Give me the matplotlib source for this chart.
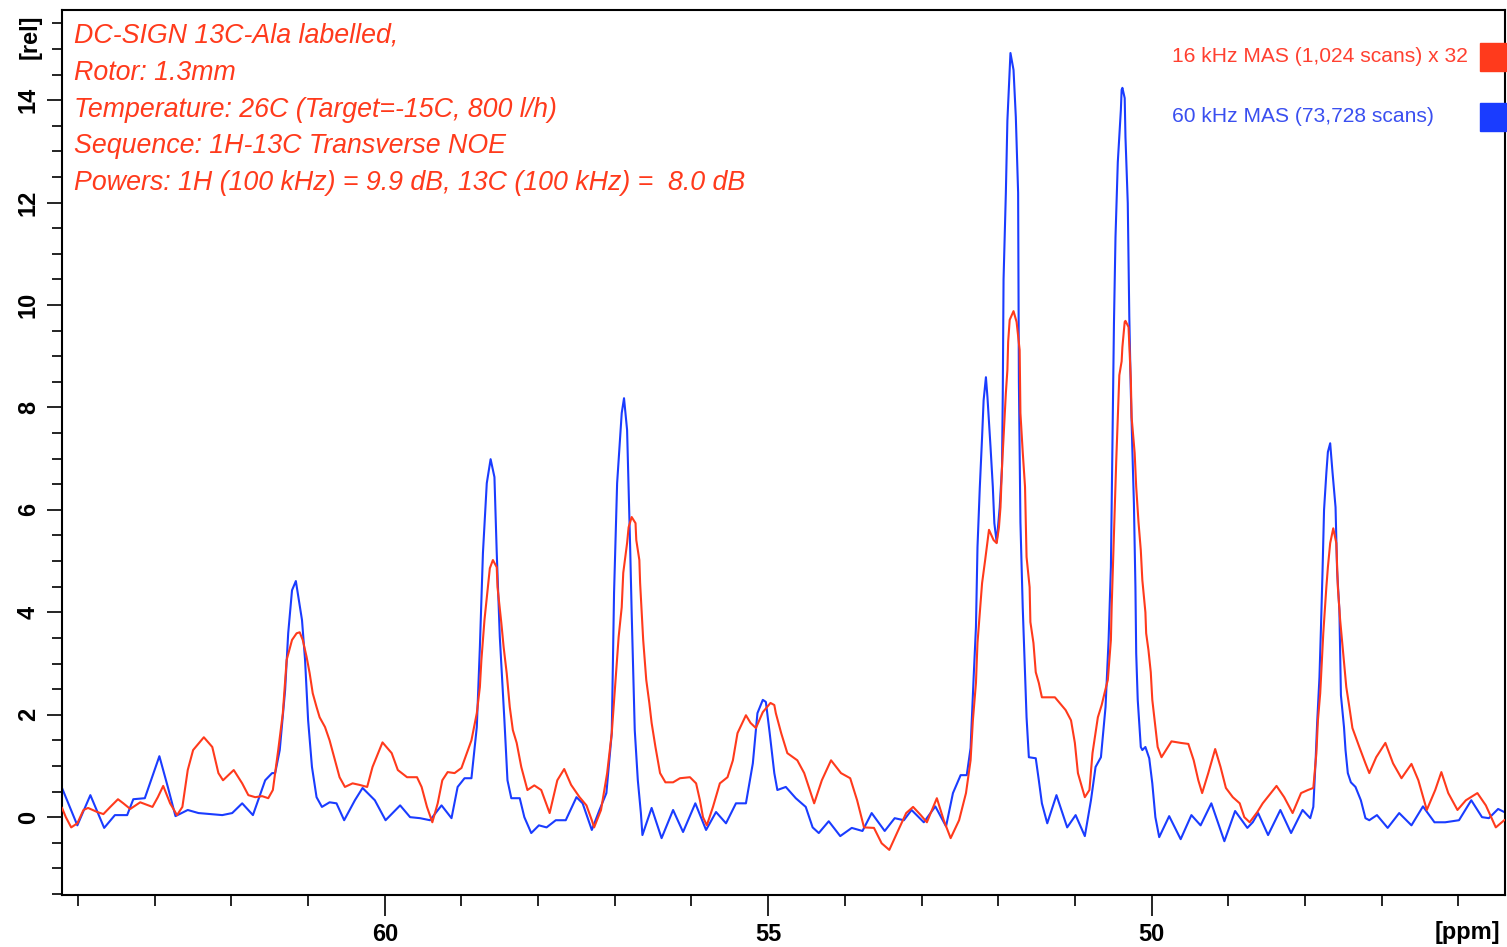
import matplotlib
matplotlib.use("Agg")
import matplotlib.pyplot as plt
from matplotlib.patches import Rectangle
from matplotlib.ticker import MultipleLocator

plt.rcParams['font.family'] = ['Liberation Sans', 'DejaVu Sans']

# ---------------- data ----------------
blue_ppm = [64.21, 64.01, 63.84, 63.66, 63.52, 63.36, 63.28, 63.13, 62.94, 62.83, 62.73, 62.57, 62.43,
            62.12, 61.99, 61.86, 61.72, 61.56, 61.47, 61.43, 61.37, 61.30, 61.26, 61.21, 61.16, 61.08,
            61.04, 61.00, 60.95, 60.89, 60.82, 60.72, 60.63, 60.53, 60.39, 60.29, 60.13, 59.99, 59.80,
            59.67, 59.54, 59.41, 59.26, 59.13, 59.05, 58.96, 58.87, 58.80, 58.76, 58.72, 58.67, 58.62,
            58.57, 58.54, 58.50, 58.44, 58.40, 58.35, 58.24, 58.18, 58.09, 57.99, 57.89, 57.77, 57.64,
            57.50, 57.42, 57.30, 57.20, 57.11, 57.04, 57.01, 56.97, 56.91, 56.88, 56.84, 56.80, 56.78,
            56.74, 56.70, 56.66, 56.64, 56.52, 56.39, 56.24, 56.11, 55.95, 55.81, 55.68, 55.55, 55.42,
            55.29, 55.20, 55.14, 55.07, 55.03, 54.98, 54.92, 54.88, 54.77, 54.64, 54.51, 54.42, 54.34,
            54.21, 54.06, 53.91, 53.77, 53.65, 53.48, 53.35, 53.23, 53.13, 52.97, 52.82, 52.68, 52.59,
            52.49, 52.41, 52.36, 52.32, 52.29, 52.27, 52.24, 52.21, 52.19, 52.16, 52.14, 52.10, 52.07,
            52.05, 52.02, 51.98, 51.95, 51.94, 51.93, 51.90, 51.88, 51.85, 51.84, 51.80, 51.77, 51.74,
            51.73, 51.71, 51.68, 51.65, 51.63, 51.60, 51.51, 51.47, 51.43, 51.36, 51.24, 51.10, 50.99,
            50.87, 50.79, 50.73, 50.66, 50.60, 50.56, 50.53, 50.52, 50.51, 50.49, 50.47, 50.44, 50.40,
            50.39, 50.38, 50.35, 50.34, 50.31, 50.29, 50.27, 50.25, 50.23, 50.21, 50.20, 50.18, 50.14,
            50.12, 50.08, 50.03, 49.99, 49.95, 49.90, 49.77, 49.62, 49.48, 49.36, 49.22, 49.05, 48.91,
            48.75, 48.68, 48.61, 48.48, 48.32, 48.18, 48.03, 47.93, 47.89, 47.86, 47.84, 47.81, 47.79,
            47.77, 47.75, 47.72, 47.70, 47.67, 47.64, 47.60, 47.58, 47.55, 47.53, 47.49, 47.47, 47.44,
            47.40, 47.34, 47.27, 47.21, 47.16, 47.06, 46.92, 46.77, 46.61, 46.46, 46.31, 46.17, 45.99,
            45.83, 45.69, 45.60, 45.48, 45.40]
blue_int = [0.57, -0.16, 0.43, -0.21, 0.04, 0.04, 0.35, 0.37, 1.19, 0.59, 0.02, 0.14, 0.08,
            0.04, 0.08, 0.27, 0.04, 0.72, 0.86, 0.86, 1.31, 2.48, 3.59, 4.43, 4.61, 3.85,
            3.07, 1.89, 0.98, 0.39, 0.20, 0.29, 0.27, -0.06, 0.33, 0.57, 0.33, -0.06, 0.23,
            0.00, -0.02, -0.06, 0.23, -0.02, 0.59, 0.76, 0.76, 1.76, 3.32, 5.16, 6.52, 6.99,
            6.64, 5.16, 3.52, 1.89, 0.72, 0.37, 0.37, 0.00, -0.31, -0.16, -0.20, -0.06, -0.06,
            0.39, 0.27, -0.25, 0.14, 0.47, 1.64, 4.38, 6.52, 7.89, 8.18, 7.56, 5.27, 3.98,
            1.70, 0.72, 0.08, -0.35, 0.18, -0.41, 0.14, -0.29, 0.27, -0.25, 0.10, -0.12, 0.27,
            0.27, 1.05, 2.03, 2.29, 2.25, 1.64, 0.86, 0.53, 0.59, 0.37, 0.20, -0.20, -0.31,
            -0.08, -0.37, -0.21, -0.27, 0.08, -0.27, -0.02, -0.06, 0.14, -0.10, 0.21, -0.18, 0.47,
            0.82, 0.82, 1.35, 2.73, 3.71, 5.27, 6.43, 7.42, 8.14, 8.59, 8.20, 7.23, 6.45,
            5.74, 5.37, 6.05, 6.84, 8.28, 10.50, 12.19, 13.60, 14.59, 14.92, 14.59, 13.67, 12.19,
            8.50, 5.76, 4.10, 2.83, 1.95, 1.17, 1.15, 0.72, 0.27, -0.12, 0.43, -0.20, 0.04,
            -0.37, 0.33, 0.98, 1.17, 2.15, 3.46, 4.88, 6.05, 7.17, 9.65, 11.33, 12.79, 13.81,
            14.20, 14.24, 14.04, 13.28, 11.99, 9.77, 8.30, 7.17, 6.13, 4.49, 3.20, 2.29, 1.37,
            1.31, 1.37, 1.15, 0.66, 0.00, -0.39, 0.02, -0.43, 0.04, -0.16, 0.27, -0.47, 0.12,
            -0.21, -0.10, 0.08, -0.35, 0.14, -0.31, 0.14, -0.02, 0.20, 1.11, 1.84, 2.73, 3.71,
            4.79, 6.00, 6.72, 7.13, 7.30, 6.74, 6.05, 4.82, 4.04, 2.38, 1.76, 1.31, 0.86,
            0.68, 0.59, 0.33, -0.02, -0.06, 0.04, -0.21, 0.08, -0.16, 0.21, -0.10, -0.10, -0.06,
            0.33, 0.00, -0.02, 0.16, 0.10]

red_ppm = [64.21, 64.16, 64.09, 64.01, 63.93, 63.87, 63.75, 63.67, 63.58, 63.48, 63.41, 63.32, 63.19,
           63.03, 62.96, 62.89, 62.80, 62.71, 62.64, 62.57, 62.50, 62.36, 62.25, 62.17, 62.11, 61.97,
           61.86, 61.78, 61.69, 61.60, 61.52, 61.46, 61.39, 61.33, 61.28, 61.21, 61.15, 61.11, 61.07,
           61.02, 60.98, 60.94, 60.89, 60.85, 60.78, 60.72, 60.65, 60.59, 60.52, 60.42, 60.33, 60.23,
           60.16, 60.03, 59.91, 59.83, 59.71, 59.58, 59.52, 59.45, 59.38, 59.31, 59.25, 59.18, 59.09,
           59.00, 58.93, 58.87, 58.80, 58.76, 58.74, 58.70, 58.66, 58.63, 58.59, 58.54, 58.53, 58.48,
           58.45, 58.41, 58.37, 58.33, 58.28, 58.22, 58.14, 58.05, 57.96, 57.85, 57.75, 57.66, 57.57,
           57.46, 57.37, 57.30, 57.27, 57.18, 57.10, 57.04, 56.99, 56.95, 56.91, 56.89, 56.84, 56.82,
           56.78, 56.73, 56.72, 56.68, 56.67, 56.63, 56.59, 56.55, 56.52, 56.47, 56.41, 56.34, 56.24,
           56.15, 56.02, 55.94, 55.89, 55.85, 55.80, 55.72, 55.63, 55.53, 55.46, 55.40, 55.29, 55.23,
           55.16, 55.07, 54.97, 54.92, 54.90, 54.83, 54.75, 54.62, 54.53, 54.40, 54.30, 54.18, 54.05,
           53.93, 53.84, 53.75, 53.62, 53.52, 53.42, 53.32, 53.20, 53.11, 53.01, 52.93, 52.80, 52.71,
           52.62, 52.51, 52.42, 52.36, 52.33, 52.29, 52.27, 52.24, 52.21, 52.17, 52.12, 52.06, 52.02,
           51.99, 51.97, 51.95, 51.93, 51.90, 51.88, 51.87, 51.85, 51.80, 51.76, 51.72, 51.71, 51.68,
           51.65, 51.63, 51.59, 51.58, 51.54, 51.51, 51.47, 51.43, 51.26, 51.12, 51.05, 51.00, 50.96,
           50.87, 50.81, 50.77, 50.70, 50.65, 50.61, 50.57, 50.53, 50.52, 50.48, 50.46, 50.42, 50.39,
           50.38, 50.35, 50.34, 50.30, 50.27, 50.26, 50.22, 50.20, 50.17, 50.14, 50.12, 50.08, 50.07,
           50.04, 50.01, 49.99, 49.95, 49.92, 49.87, 49.74, 49.62, 49.52, 49.45, 49.39, 49.34, 49.26,
           49.17, 49.10, 49.03, 48.94, 48.85, 48.79, 48.72, 48.62, 48.55, 48.37, 48.27, 48.16, 48.05,
           47.96, 47.89, 47.85, 47.83, 47.80, 47.76, 47.72, 47.70, 47.67, 47.63, 47.59, 47.57, 47.54,
           47.50, 47.46, 47.42, 47.38, 47.29, 47.21, 47.16, 47.07, 46.95, 46.85, 46.74, 46.61, 46.52,
           46.41, 46.30, 46.22, 46.13, 46.01, 45.90, 45.75, 45.64, 45.51, 45.40]
red_int = [0.18, 0.00, -0.20, -0.12, 0.14, 0.18, 0.10, 0.06, 0.20, 0.35, 0.27, 0.16, 0.29,
           0.20, 0.39, 0.61, 0.27, 0.04, 0.20, 0.92, 1.31, 1.56, 1.37, 0.86, 0.72, 0.92,
           0.66, 0.43, 0.39, 0.41, 0.37, 0.53, 1.31, 2.03, 3.07, 3.46, 3.59, 3.61, 3.46,
           3.13, 2.81, 2.42, 2.15, 1.95, 1.76, 1.50, 1.11, 0.78, 0.59, 0.66, 0.63, 0.59,
           0.98, 1.46, 1.25, 0.92, 0.78, 0.78, 0.59, 0.20, -0.10, 0.27, 0.72, 0.88, 0.86,
           0.96, 1.25, 1.50, 2.03, 2.54, 3.07, 3.85, 4.43, 4.86, 5.02, 4.88, 4.49, 3.79,
           3.32, 2.81, 2.15, 1.70, 1.45, 0.98, 0.53, 0.62, 0.53, 0.08, 0.72, 0.94, 0.63,
           0.39, 0.23, -0.06, -0.20, 0.14, 0.86, 1.64, 2.68, 3.52, 4.10, 4.77, 5.35, 5.66,
           5.86, 5.74, 5.41, 5.02, 4.57, 3.46, 2.68, 2.23, 1.84, 1.37, 0.86, 0.68, 0.68,
           0.76, 0.78, 0.66, 0.33, 0.00, -0.16, 0.20, 0.66, 0.78, 1.11, 1.64, 1.99, 1.84,
           1.74, 2.05, 2.23, 2.19, 2.03, 1.64, 1.25, 1.11, 0.86, 0.27, 0.72, 1.11, 0.86,
           0.76, 0.33, -0.20, -0.21, -0.51, -0.64, -0.31, 0.08, 0.20, 0.04, -0.10, 0.37, -0.06,
           -0.41, -0.06, 0.47, 1.11, 1.89, 2.62, 3.40, 3.98, 4.57, 5.02, 5.61, 5.41, 5.35,
           5.66, 6.05, 6.84, 7.42, 8.28, 8.73, 9.28, 9.71, 9.88, 9.67, 9.12, 7.89, 7.13,
           6.45, 5.08, 4.49, 3.81, 3.40, 2.83, 2.62, 2.34, 2.34, 2.09, 1.89, 1.45, 0.86,
           0.39, 0.53, 1.25, 1.95, 2.19, 2.44, 2.68, 3.46, 4.10, 6.05, 6.97, 8.63, 8.90,
           9.18, 9.67, 9.69, 9.57, 8.54, 7.81, 7.11, 6.45, 5.76, 5.21, 4.63, 4.00, 3.59,
           3.26, 2.83, 2.29, 1.76, 1.37, 1.17, 1.48, 1.45, 1.43, 1.11, 0.72, 0.47, 0.86,
           1.33, 0.98, 0.57, 0.39, 0.27, 0.00, -0.10, 0.10, 0.27, 0.61, 0.39, 0.08, 0.47,
           0.53, 0.57, 1.25, 1.89, 2.42, 3.59, 4.49, 4.88, 5.35, 5.64, 5.35, 4.49, 3.85,
           3.20, 2.54, 2.15, 1.74, 1.37, 1.05, 0.86, 1.17, 1.45, 1.05, 0.76, 1.04, 0.72,
           0.14, 0.53, 0.88, 0.47, 0.14, 0.33, 0.47, 0.23, -0.20, -0.06]

x_major = [60, 55, 50]
y_major = [0, 2, 4, 6, 8, 10, 12, 14]

info_lines = ["DC-SIGN 13C-Ala labelled,",
              "Rotor: 1.3mm",
              "Temperature: 26C (Target=-15C, 800 l/h)",
              "Sequence: 1H-13C Transverse NOE",
              "Powers: 1H (100 kHz) = 9.9 dB, 13C (100 kHz) =  8.0 dB"]
legend_labels = ["16 kHz MAS (1,024 scans) x 32", "60 kHz MAS (73,728 scans)"]

RED = '#ff3a1c'
BLUE = '#1a3cff'

# ---------------- figure ----------------
W, H = 1507, 947
fig = plt.figure(figsize=(W / 100, H / 100), dpi=100)
ax = fig.add_axes([62 / W, (H - 895) / H, (1505 - 62) / W, (895 - 10) / H])

ax.plot(blue_ppm, blue_int, color=BLUE, lw=1.5, zorder=2)
ax.plot(red_ppm, red_int, color=RED, lw=1.5, zorder=3)

ax.set_xlim(64.21, 45.39)
ax.set_ylim(-1.52, 15.76)

ax.set_xticks(x_major)
ax.set_xticklabels([str(v) for v in x_major], fontweight='bold', fontsize=17)
ax.xaxis.set_minor_locator(MultipleLocator(1))
ax.set_yticks(y_major)
ax.set_yticklabels([str(v) for v in y_major], fontweight='bold', fontsize=17,
                   rotation=90, va='center')
ax.yaxis.set_minor_locator(MultipleLocator(0.5))

ax.tick_params(axis='x', which='major', direction='out', length=15, width=1.2, pad=5)
ax.tick_params(axis='x', which='minor', direction='out', length=8, width=1.2)
ax.tick_params(axis='y', which='major', direction='out', length=11, width=1.2, pad=5)
ax.tick_params(axis='y', which='minor', direction='out', length=7, width=1.2)
for s in ax.spines.values():
    s.set_linewidth(1.5)

# axis unit labels
fig.text(30 / W, 1 - 37 / H, '[rel]', rotation=90, fontweight='bold', fontsize=17,
         ha='center', va='center')
fig.text(1467 / W, 1 - 932 / H, '[ppm]', fontweight='bold', fontsize=17,
         ha='center', va='center')

# info text block
for i, line in enumerate(info_lines):
    fig.text(74 / W, 1 - (36 + i * 36.8) / H, line, color=RED, fontstyle='italic',
             fontsize=19.3, ha='left', va='center')

# legend
leg_colors = [RED, BLUE]
leg_text_colors = ['#ff4030', '#3a4ff0']
for i, (lab, c, tc) in enumerate(zip(legend_labels, leg_colors, leg_text_colors)):
    yc = 57 + i * 60
    fig.text(1172 / W, 1 - yc / H, lab, color=tc, fontsize=15.1, ha='left', va='center')
    fig.patches.append(Rectangle((1480 / W, 1 - (yc + 14) / H), 26 / W, 28 / H,
                                 transform=fig.transFigure, color=c, zorder=5))

fig.savefig('out.png', dpi=100)
